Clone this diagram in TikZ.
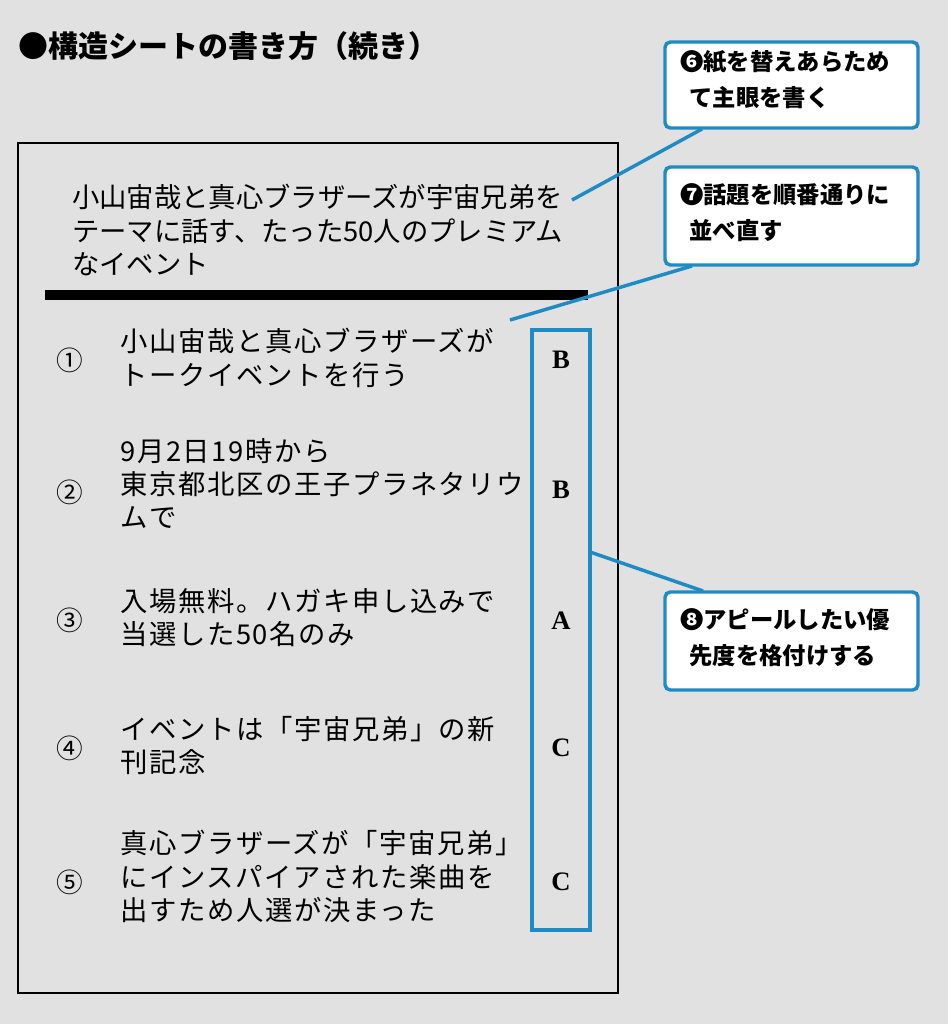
\documentclass[tikz,border=0pt]{standalone}
\usepackage{fontspec}
\setmainfont{Noto Sans CJK JP}
\newfontfamily\serifb{Liberation Serif}
\newfontfamily\itemf[LetterSpace=6]{Noto Sans CJK JP}
\begin{document}
\begin{tikzpicture}[x=0.75pt,y=-0.75pt,
 txt/.style={anchor=north west,align=left,font=\itemf\fontsize{20.5}{25}\selectfont,inner sep=0pt},
 htxt/.style={anchor=north west,align=left,font=\fontsize{20.5}{25}\selectfont,inner sep=0pt},
 num/.style={font=\fontsize{20}{22}\selectfont,inner sep=0pt},
 let/.style={font=\serifb\bfseries\fontsize{20}{22}\selectfont,inner sep=0pt},
 call/.style={draw=cb,line width=2.6pt,rounded corners=4pt,fill=white},
 ctxt/.style={anchor=north west,align=left,font=\bfseries\fontsize{17.5}{27}\selectfont,inner sep=0pt},
 lk/.style={draw=cb,line width=2.6pt}]
\definecolor{cb}{HTML}{1E8BC3}
\definecolor{bg}{HTML}{E1E1E1}
\fill[bg] (0,0) rectangle (948,1024);
\useasboundingbox (0,0) rectangle (948,1024);
\node[anchor=west,font=\bfseries\fontsize{22.5}{26}\selectfont,inner sep=0pt] (title) at (18,46) {●構造シートの書き方（続き）};
\draw[line width=1pt] (18,143) rectangle (618,993);
\node[htxt] (head) at (72,184) {小山宙哉と真心ブラザーズが宇宙兄弟を\\テーマに話す、たった50人のプレミアム\\なイベント};
\draw[line width=8pt] (45,295) -- (588,295);
\node[num] (n1) at (70,360) {①};
\node[num] (n2) at (70,492) {②};
\node[num] (n3) at (70,620) {③};
\node[num] (n4) at (70,748) {④};
\node[num] (n5) at (70,882) {⑤};
\node[txt] (t1) at (120,328) {小山宙哉と真心ブラザーズが\\トークイベントを行う};
\node[txt] (t2) at (120,438) {9月2日19時から\\東京都北区の王子プラネタリウ\\ムで};
\node[txt] (t3) at (120,588) {入場無料。ハガキ申し込みで\\当選した50名のみ};
\node[txt] (t4) at (120,716) {イベントは「宇宙兄弟」の新\\刊記念};
\node[txt] (t5) at (120,830) {真心ブラザーズが「宇宙兄弟」\\にインスパイアされた楽曲を\\出すため人選が決まった};
\draw[cb,line width=2.6pt] (532,330) rectangle (590,930);
\coordinate (prr) at (590,552);
\node[let] (l1) at (561,360) {B};
\node[let] (l2) at (561,490) {B};
\node[let] (l3) at (561,621) {A};
\node[let] (l4) at (561,748) {C};
\node[let] (l5) at (561,882) {C};
\draw[call] (665,42) rectangle (918,128);
\node[ctxt] (c6) at (680,50) {❻紙を替えあらため\\\ \,て主眼を書く};
\draw[call] (665,167) rectangle (918,265);
\node[ctxt] (c7) at (680,183) {❼話題を順番通りに\\\ \,並べ直す};
\draw[call] (665,592) rectangle (918,690);
\node[ctxt] (c8) at (680,608) {❽アピールしたい優\\\ \,先度を格付けする};
\coordinate (a6) at (572,200); \coordinate (b6) at (702,129);
\coordinate (a7) at (510,320); \coordinate (b7) at (692,266);
\coordinate (b8) at (703,591);
\draw[lk] (a6) -- (b6);
\draw[lk] (a7) -- (b7);
\draw[lk] (prr) -- (b8);
\end{tikzpicture}
\end{document}
